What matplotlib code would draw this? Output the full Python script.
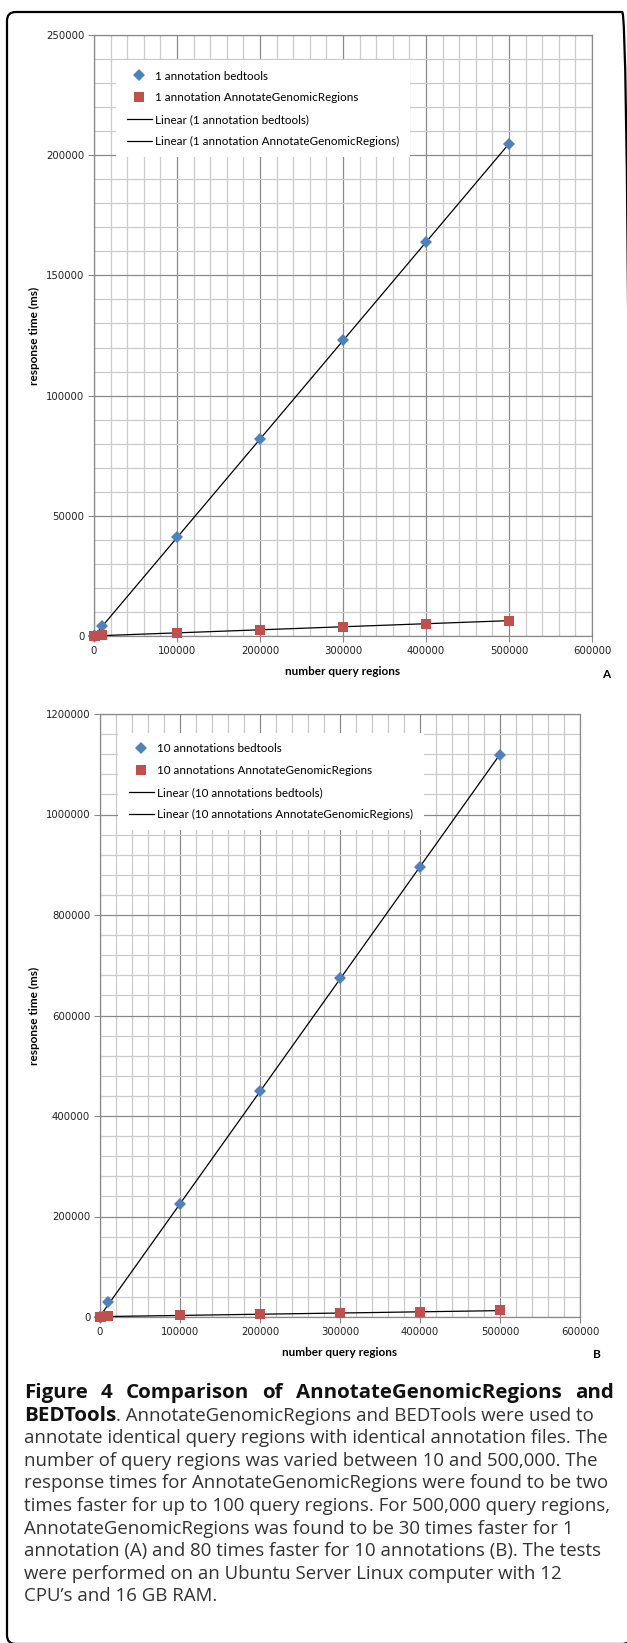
import numpy as np
import matplotlib
matplotlib.use("Agg")
import matplotlib.pyplot as plt
from matplotlib.patches import FancyBboxPatch
from matplotlib.lines import Line2D
from matplotlib.ticker import MultipleLocator, StrMethodFormatter

# ---------------- data ----------------
query_n = [10, 100, 1000, 10000, 100000, 200000, 300000, 400000, 500000]
bed_1ann = [5, 20, 100, 4100, 41000, 82000, 123000, 164000, 204500]
agr_1ann = [3, 10, 50, 250, 1300, 2600, 3800, 5100, 6400]
bed_10ann = [20, 100, 800, 29000, 225000, 450000, 675000, 896000, 1118000]
agr_10ann = [10, 50, 300, 2000, 4500, 6000, 7500, 9000, 13500]

labels_A = ["1 annotation bedtools", "1 annotation AnnotateGenomicRegions",
            "Linear (1 annotation bedtools)",
            "Linear (1 annotation AnnotateGenomicRegions)"]
labels_B = ["10 annotations bedtools", "10 annotations AnnotateGenomicRegions",
            "Linear (10 annotations bedtools)",
            "Linear (10 annotations AnnotateGenomicRegions)"]

caption_title = ["Figure", "4", "Comparison", "of", "AnnotateGenomicRegions", "and"]
caption_lines = [
    "annotate identical query regions with identical annotation files. The",
    "number of query regions was varied between 10 and 500,000. The",
    "response times for AnnotateGenomicRegions were found to be two",
    "times faster for up to 100 query regions. For 500,000 query regions,",
    "AnnotateGenomicRegions was found to be 30 times faster for 1",
    "annotation (A) and 80 times faster for 10 annotations (B). The tests",
    "were performed on an Ubuntu Server Linux computer with 12",
    "CPU\u2019s and 16 GB RAM.",
]

# ---------------- style ----------------
W, H = 627, 1643
BLUE = "#4F81BD"
RED = "#C0504D"
GRID_MAJ = "#8a8a8a"
GRID_MIN = "#cbcbcb"
XL_FONT = "Lato"

fig = plt.figure(figsize=(W / 100, H / 100), dpi=100)
fig.patch.set_facecolor("white")

# rounded page frame (right and bottom sides run off the page)
frame = FancyBboxPatch((7 / W, -1 / H), (631 - 7) / W, (H - 12 + 1) / H,
                       boxstyle="round,pad=0,rounding_size=0.014",
                       transform=fig.transFigure, fill=False,
                       edgecolor="black", linewidth=1.6, mutation_aspect=W / H)
fig.patches.append(frame)


def px_axes(left, top, right, bottom):
    return fig.add_axes([left / W, 1 - bottom / H, (right - left) / W, (bottom - top) / H])


def draw_chart(ax, bed, agr, ymax, ymaj, ymin, labels, leg_xy, tag, tag_xy, xlab_y):
    x = np.array(query_n, dtype=float)
    ax.set_xlim(0, 600000)
    ax.set_ylim(0, ymax)
    ax.xaxis.set_major_locator(MultipleLocator(100000))
    ax.xaxis.set_minor_locator(MultipleLocator(20000))
    ax.yaxis.set_major_locator(MultipleLocator(ymaj))
    ax.yaxis.set_minor_locator(MultipleLocator(ymin))
    ax.xaxis.set_major_formatter(StrMethodFormatter("{x:.0f}"))
    ax.yaxis.set_major_formatter(StrMethodFormatter("{x:.0f}"))
    ax.grid(which="major", color=GRID_MAJ, linewidth=0.9)
    ax.grid(which="minor", color=GRID_MIN, linewidth=0.9)
    ax.set_axisbelow(True)
    for s in ax.spines.values():
        s.set_color(GRID_MAJ)
        s.set_linewidth(0.9)
    ax.tick_params(which="major", length=4, color=GRID_MAJ, labelsize=7.3,
                   labelcolor="#222222", pad=3)
    ax.tick_params(which="minor", length=0)
    for t in ax.get_xticklabels() + ax.get_yticklabels():
        t.set_fontfamily("DejaVu Sans")

    # Excel style linear trend lines
    xs = np.array([x.min(), x.max()])
    for y in (bed, agr):
        k, b = np.polyfit(x, np.array(y, dtype=float), 1)
        ax.plot(xs, k * xs + b, color="black", linewidth=0.9, zorder=3)

    ax.plot(x, bed, linestyle="none", marker="D", color=BLUE, markersize=5.8,
            markeredgewidth=0, zorder=4, clip_on=False)
    ax.plot(x, agr, linestyle="none", marker="s", color=RED, markersize=7.2,
            markeredgewidth=0, zorder=4, clip_on=False)

    pos = ax.get_position()
    ax.set_ylabel("response time (ms)", fontfamily=XL_FONT, fontweight="bold",
                  fontsize=8.5)
    ax.yaxis.set_label_coords(-(pos.x0 * W - 40) / (pos.width * W), 0.5)
    fig.text((pos.x0 + pos.x1) / 2, 1 - xlab_y / H,
             "number query regions", ha="center", va="center",
             fontfamily=XL_FONT, fontweight="bold", fontsize=8.5)
    fig.text(tag_xy[0] / W, 1 - tag_xy[1] / H, tag, ha="center", va="center",
             fontfamily=XL_FONT, fontweight="bold", fontsize=8.5)

    handles = [
        Line2D([], [], linestyle="none", marker="D", color=BLUE, markersize=5.8,
               markeredgewidth=0),
        Line2D([], [], linestyle="none", marker="s", color=RED, markersize=6.5,
               markeredgewidth=0),
        Line2D([], [], color="black", linewidth=0.9),
        Line2D([], [], color="black", linewidth=0.9),
    ]
    leg = ax.legend(handles, labels, loc="upper left",
                    bbox_to_anchor=(leg_xy[0] / W, 1 - leg_xy[1] / H),
                    bbox_transform=fig.transFigure, frameon=True, fancybox=False,
                    framealpha=1, edgecolor="none", facecolor="white",
                    prop={"family": XL_FONT, "size": 8.4}, labelspacing=0.92,
                    handlelength=2.2, handletextpad=0.25, borderpad=0.9,
                    borderaxespad=0)
    leg.set_zorder(5)


axA = px_axes(94, 35, 592, 636)
draw_chart(axA, bed_1ann, agr_1ann, 250000, 50000, 10000, labels_A,
           (116, 60), "A", (606, 674), 672)

axB = px_axes(100, 714, 580, 1317)
draw_chart(axB, bed_10ann, agr_10ann, 1200000, 200000, 40000, labels_B,
           (118, 733), "B", (597, 1354), 1352)

# ---------------- caption ----------------
renderer = fig.canvas.get_renderer()
CAP_FONT = "Open Sans"
TXT = "#333333"
left_px, right_px = 24, 614
line_gap = 22.6
y0 = 1393


def width_px(t):
    return t.get_window_extent(renderer).width


# fit body size so the longest line ends where it does in the figure
probe = fig.text(0, 0, caption_lines[3], fontsize=10, fontfamily=CAP_FONT)
body_size = 10 * (610 - left_px) / width_px(probe)
probe.remove()

# title line, justified
words = [fig.text(0, 1 - y0 / H, w, fontsize=body_size * 1.1, fontweight="bold",
                  fontfamily=CAP_FONT, va="center", color="#111111")
         for w in caption_title]
widths = [width_px(t) for t in words]
gap = (right_px - left_px - sum(widths)) / (len(words) - 1)
xpos = left_px
for t, w in zip(words, widths):
    t.set_x(xpos / W)
    xpos += w + gap

# second line: bold start + normal rest
y1 = y0 + line_gap
bold = fig.text(left_px / W, 1 - y1 / H, "BEDTools", fontsize=body_size * 1.1,
                fontweight="bold", fontfamily=CAP_FONT, va="center", color="#111111")
bw = width_px(bold)
fig.text((left_px + bw) / W, 1 - y1 / H,
         ". AnnotateGenomicRegions and BEDTools were used to",
         fontsize=body_size, fontfamily=CAP_FONT, va="center", color=TXT)

for i, line in enumerate(caption_lines):
    y = y0 + line_gap * (i + 2)
    fig.text(left_px / W, 1 - y / H, line, fontsize=body_size,
             fontfamily=CAP_FONT, va="center", color=TXT)

fig.savefig("out.png", dpi=100)
